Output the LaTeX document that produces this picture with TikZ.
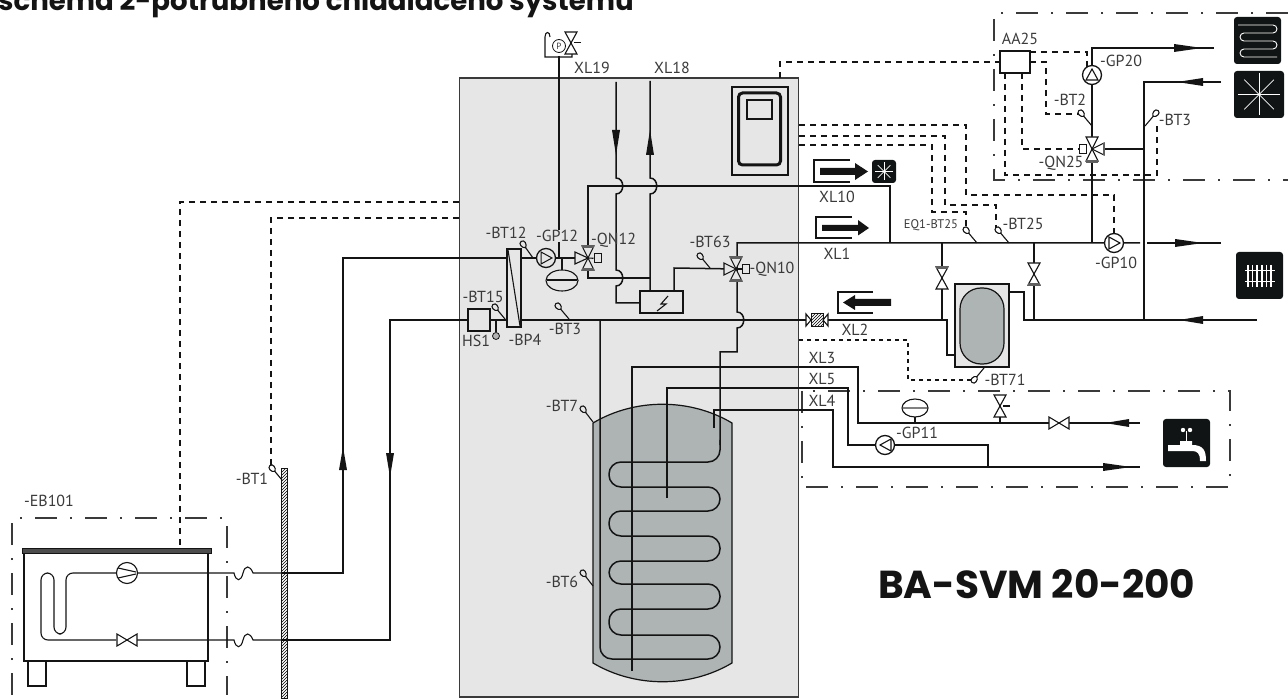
\documentclass[tikz,border=0pt]{standalone}
\usepackage{fontspec}
\setmainfont{PT Sans}
\newfontfamily\headfont{Poppins}[BoldFont={Poppins Bold}]
\usetikzlibrary{patterns}
\definecolor{boxgray}{HTML}{E6E6E6}
\definecolor{tankgray}{HTML}{AEB3B3}
\definecolor{ink}{HTML}{141414}
\definecolor{txt}{HTML}{3A3A3A}
\definecolor{iconbk}{HTML}{111414}
\tikzset{
  pipe/.style={draw=ink,line width=1.5pt},
  thin pipe/.style={draw=ink,line width=1.1pt},
  sig/.style={draw=ink,line width=1.05pt,dash pattern=on 6pt off 5pt},
  zone/.style={draw=txt,line width=1.1pt,dash pattern=on 22pt off 13pt on 2pt off 13pt},
  lbl/.style={inner sep=0pt,text=txt,font=\fontsize{16}{17}\selectfont},
  sym/.style={draw=ink,line width=1.1pt},
  icon/.style={fill=iconbk,rounded corners=3pt},
  iconline/.style={draw=white,line width=.9pt},
}
\newcommand{\vc}{white}
\newcommand{\arh}[3]{\fill[ink] (#1,#3) -- (#2,#3-4) -- (#2,#3+4) -- cycle;}
\newcommand{\arv}[3]{\fill[ink] (#1,#2) -- (#1-4,#3) -- (#1+4,#3) -- cycle;}
\newcommand{\vtri}[3]{\path[sym,fill=\vc] (#1,#2) -- (#1-6,#2+#3) -- (#1+6,#2+#3) -- cycle;}
\newcommand{\htri}[3]{\path[sym,fill=\vc] (#1,#2) -- (#1+#3,#2-6) -- (#1+#3,#2+6) -- cycle;}
\newcommand{\pumpc}[2]{\path[draw=ink,line width=1.3pt,fill=\vc] (#1,#2) circle (9.5pt);}
% sensor: teardrop bulb at x,y with a tail to the pipe at x,y
\newcommand{\sensor}[4]{%
  \pgfmathsetmacro{\sa}{atan2(-(#4-(#2)),#3-(#1))}%
  \draw[thin pipe] (#1,#2) -- (#3,#4);
  \path[sym,fill=\vc] ([shift={(\sa:4.5pt)}]#1,#2)
    .. controls ([shift={(\sa+50:4.5pt)}]#1,#2) and ([shift={(\sa+130:5pt)}]#1,#2) .. ([shift={(\sa+180:3.2pt)}]#1,#2)
    .. controls ([shift={(\sa-130:5pt)}]#1,#2) and ([shift={(\sa-50:4.5pt)}]#1,#2) .. cycle;}
\newcommand{\Star}[3]{\foreach \a in {0,45,90,135}{\draw[iconline,line width=.7pt] (#1,#2) ++(\a:#3pt) -- ++(\a+180:#3*2pt);}}
\begin{document}
\begin{tikzpicture}[x=1pt,y=-1pt]
\useasboundingbox (0,0) rectangle (1288,700);
\clip (0,0) rectangle (1288,700);

% === main cabinet
\path[fill=boxgray,draw=txt,line width=1.3pt] (459.5,78) rectangle (798.5,697);
\node[lbl,font=\headfont\bfseries\fontsize{27.6}{29}\selectfont,text=ink,anchor=base west] (title) at (-2,11) {schema 2-potrubneho chladiaceho systemu};
\node[lbl,font=\headfont\bfseries\fontsize{39}{41}\selectfont,text=ink,anchor=base west] (model) at (878,598) {BA-SVM 20-200};

% === zones
\draw[zone] (1288,13) -- (994,13) -- (994,180) -- (1288,180);
\draw[zone] (802,391) rectangle (1230,487);
\draw[zone] (12,695) -- (12,518) -- (227,518) -- (227,695);

% === tank
\path[fill=tankgray,draw=ink,line width=1.2pt] (593,423) .. controls (635,398) and (690,398) .. (732,423) -- (732,663) .. controls (690,688) and (635,688) .. (593,663) -- cycle;

% === dashed signal wires
\draw[sig] (459,202) -- (180,202) -- (180,548);
\draw[sig] (459,218) -- (271,218) -- (271,465);
\draw[sig] (780,78) -- (780,62) -- (1000,62);
\draw[sig] (799,125) -- (966,125) -- (966,195) -- (1114,195) -- (1114,233);
\draw[sig] (799,136) -- (945,136) -- (945,205) -- (996,205) -- (996,228);
\draw[sig] (799,145) -- (932,145) -- (932,212) -- (966,212) -- (966,227);
\draw[sig,dash pattern=on 4pt off 4pt] (799,340) -- (908,340) -- (908,380) -- (971,380);
\draw[sig] (1030,52) -- (1087,52) -- (1087,68);
\draw[sig] (1030,62) -- (1046,62) -- (1046,114) -- (1079,114);
\draw[sig] (1005,73) -- (1005,175) -- (1157,175) -- (1157,122);
\draw[sig] (1022,73) -- (1022,149) -- (1079,149);

% === pipes, left and process
\coordinate (qn12) at (588,258);
\coordinate (qn10) at (736,269);
\draw[pipe] (282,573) -- (343,573) -- (343,258) -- (507,258);
\draw[pipe] (282,640) -- (390,640) -- (390,320) -- (468,320);
\draw[pipe] (490,320) -- (507,320);
\draw[pipe] (521,258) -- (qn12);
\draw[pipe] (559,56) -- (559,258);
\draw[pipe] (562,258) -- (562,270);
\draw[pipe] (521,320) -- (806,320);
\draw[pipe] (828,320) -- (947,320) -- (947,355) -- (955,355);
\draw[pipe,rounded corners=12pt] (600,320) -- (600,659) -- (720,659) -- (720,635) -- (609,635) -- (609,609) -- (720,609) -- (720,584) -- (609,584) -- (609,561) -- (720,561) -- (720,536) -- (609,536) -- (609,511) -- (720,511) -- (720,487) -- (609,487) -- (609,462) -- (720,462) -- (720,440);
\draw[pipe] (720,445) -- (720,352) -- (737,352) -- (737,328) .. controls (746,328) and (746,312) .. (737,312) -- (737,243) -- (1140,243);
\draw[pipe] (632,671) -- (632,367) -- (858,367) -- (858,423) -- (1140,423);
\draw[pipe] (667,498) -- (667,388) -- (848,388) -- (848,445) -- (988,445) -- (988,467);
\draw[pipe] (714,428) -- (714,410) -- (833,410) -- (833,467) -- (1140,467);
\draw[pipe] (616,82) -- (616,178) .. controls (625,178) and (625,194) .. (616,194) -- (616,270) .. controls (625,270) and (625,286) .. (616,286) -- (616,303) -- (640,303);
\draw[pipe] (650,81) -- (650,178) .. controls (659,178) and (659,194) .. (650,194) -- (650,291);
\draw[pipe] (588,258) -- (588,186) -- (890,186) -- (890,243);
\draw[pipe] (588,258) -- (588,278) -- (650,278);
\draw[pipe] (674,291) -- (674,268) -- (qn10);
\draw[pipe] (1147,243) -- (1221,243);
\draw[pipe] (1092,243) -- (1092,48) -- (1214,48);
\draw[pipe] (1221,82) -- (1144,82) -- (1144,320);
\draw[pipe] (1092,149) -- (1144,149);
\draw[pipe] (942,243) -- (942,320);
\draw[pipe] (1034,243) -- (1034,320);
\draw[pipe] (1009,292) -- (1024,292) -- (1024,320) -- (1257,320);

% === arrowheads
\arv{343}{447}{470}
\arv{390}{477}{453}
\arv{616}{155}{130}
\arv{650}{130}{155}
\arh{1202}{1174}{48}
\arh{1177}{1203}{82}
\arh{1203}{1175}{243}
\arh{1179}{1203}{320}
\arh{1105}{1129}{423}
\arh{1131}{1103}{467}

% === P symbol and safety valve at the top
\draw[thin pipe] (572,53) -- (572,57) -- (545,57) -- (545,37) .. controls (545,31) and (550,31) .. (550,37);
\path[sym,line width=.8pt,fill=white] (559,46) circle (6.5pt);
\node[inner sep=0pt,text=txt,font=\fontsize{9}{9}\selectfont] (pmark) at (559,46) {P};
\vtri{571}{43}{-11}
\vtri{571}{43}{11}
\draw[thin pipe] (581,42.5) -- (574,42.5);

% === BP4 heat exchanger, HS1
\node[draw=ink,line width=1.4pt,fill=boxgray,minimum width=14pt,minimum height=78pt,inner sep=0pt] (bp4) at (514,288) {};
\draw[thin pipe] (508,250) -- (520,326);
\node[draw=ink,line width=1.3pt,fill=boxgray,minimum width=22pt,minimum height=22pt,inner sep=0pt] (hs1) at (479,320) {};
\draw[thin pipe] (496,320) -- (496,332);
\path[sym,line width=.8pt,fill=gray!60] (496,336) circle (3.5pt);

% === heater
\node[draw=ink,line width=1.3pt,fill=boxgray,minimum width=43pt,minimum height=22pt,inner sep=0pt] (heater) at (661.5,302) {};
\draw[thin pipe] (668,296) -- (661,304) -- (666,304) -- (657,311);

% === inside grey box: valves and pumps
\renewcommand{\vc}{boxgray}
\pumpc{546}{258}
\path[sym,line width=1pt] (541,252) -- (552,258) -- (541,264) -- cycle;
\path[sym,fill=boxgray] (562,280.5) ellipse (16pt and 10.5pt);
\draw[pipe,line width=2pt] (547,280.5) -- (577,280.5);
% QN12
\htri{588}{258}{-13}\vtri{588}{258}{-12}\vtri{588}{258}{12}
\fill[gray!75!black] (582,245) rectangle (594,248);
\fill[gray!75!black] (582,268) rectangle (594,271);
\node[draw=ink,line width=1pt,fill=boxgray,minimum width=7pt,minimum height=9pt,inner sep=0pt] (qn12act) at (597.5,258.5) {};
\draw[thin pipe] (qn12) -- (qn12act);
% QN10
\htri{736}{269}{-12}\vtri{736}{269}{-12}\vtri{736}{269}{12}
\fill[gray!75!black] (730,256) rectangle (742,259);
\fill[gray!75!black] (730,279) rectangle (742,282);
\node[draw=ink,line width=1pt,fill=boxgray,minimum width=7pt,minimum height=9pt,inner sep=0pt] (qn10act) at (745.5,269) {};
\draw[thin pipe] (qn10) -- (qn10act);

\sensor{523}{244}{533}{258}
\sensor{700}{256}{710}{268}
\sensor{495}{307}{505}{319}
\sensor{558}{306}{569}{319}
\sensor{583}{409}{593}{422}
\sensor{583}{573}{593}{586}

% === controller
\node[draw=ink,line width=1.1pt,fill=boxgray,minimum width=56pt,minimum height=88pt,inner sep=0pt] (ctrl) at (760,131) {};
\node[draw=ink,line width=3pt,rounded corners=4pt,fill=boxgray,minimum width=42pt,minimum height=72pt,inner sep=0pt] (ctrlin) at (759.5,129) {};
\node[draw=ink,line width=1.1pt,fill=boxgray,minimum width=25pt,minimum height=19pt,inner sep=0pt] (ctrlscr) at (759.5,109.5) {};

% === outside: white symbols
\renewcommand{\vc}{white}
\htri{811}{320}{-5}\htri{823}{320}{5}
\node[draw=ink,line width=1pt,pattern=north east lines,minimum width=12pt,minimum height=13pt,inner sep=0pt] (filt) at (817,320) {};

% service arrows
\draw[sym] (850,160) -- (814,160) -- (814,182) -- (850,182);
\fill[ink] (820,168) -- (855,168) -- (855,163) -- (868,171.5) -- (855,180) -- (855,175) -- (820,175) -- cycle;
\draw[sym] (852,217) -- (816,217) -- (816,238) -- (852,238);
\fill[ink] (822,225) -- (858,225) -- (858,220) -- (869,228) -- (858,235.5) -- (858,231) -- (822,231) -- cycle;
\draw[sym] (873,292) -- (838,292) -- (838,313) -- (873,313);
\fill[ink] (891,299) -- (855,299) -- (855,295) -- (843,302.5) -- (855,310) -- (855,306) -- (891,306) -- cycle;
\path[icon] (872,160) rectangle (896,183);
\Star{884}{171.5}{9}

% two-way valves
\vtri{942}{278}{-11}\vtri{942}{278}{11}
\fill[gray!75!black] (936,266) rectangle (948,269);
\vtri{1034}{274}{-11}\vtri{1034}{274}{11}
\fill[gray!75!black] (1028,283) rectangle (1040,286);

% buffer vessel
\node[draw=ink,line width=1.2pt,fill=boxgray,minimum width=54pt,minimum height=83pt,inner sep=0pt] (vessel) at (982,325.5) {};
\path[draw=ink,line width=1.2pt,fill=tankgray,rounded corners=21pt] (960,288) rectangle (1004,364);

% sensors outside
\sensor{272}{468}{282}{480}
\sensor{1081}{113}{1092}{126}
\sensor{1156}{113}{1145}{126}
\sensor{966}{230}{977}{243}
\sensor{998}{230}{1009}{243}
\sensor{974}{380}{984}{368}

% AA25
\node[draw=ink,line width=1.3pt,fill=white,minimum width=30pt,minimum height=22pt,inner sep=0pt] (aa25) at (1015,62) {};

% GP20, QN25
\pumpc{1092}{75}
\path[sym] (1086,80) -- (1092,69) -- (1098,80) -- cycle;
\htri{1092}{149}{12}\vtri{1092}{149}{-12}\vtri{1092}{149}{12}
\node[draw=ink,line width=1pt,fill=white,minimum width=7pt,minimum height=9pt,inner sep=0pt] (qn25act) at (1082.5,149) {};
\fill[gray!75!black] (1086,160) rectangle (1098,163);
\fill[gray!75!black] (1103,143) rectangle (1105,155);

% GP10, GP11
\pumpc{1114}{243}
\path[sym] (1109,237) -- (1120,243) -- (1109,249) -- cycle;
\pumpc{885}{445}
\path[sym] (891,439) -- (880,445) -- (891,451) -- cycle;

% DHW expansion and valves
\draw[pipe] (915,423) -- (915,416);
\path[sym,fill=white] (915,408) ellipse (13pt and 9pt);
\draw[draw=gray,line width=2pt] (903,408) -- (927,408);
\draw[pipe] (1000,423) -- (1000,417);
\vtri{1000}{406}{-11}\vtri{1000}{406}{11}
\draw[thin pipe] (1010,406) -- (1003,406);
\htri{1059}{423}{-10}\htri{1059}{423}{10}

% === outdoor unit
\path[draw=ink,line width=1.6pt,fill=white] (24,553) rectangle (208,661);
\path[draw=ink,line width=1pt,fill=gray!60!black] (22,548) rectangle (211,553);
\draw[draw=ink,line width=1.5pt] (28,661) -- (28,686) -- (46,686) -- (46,661);
\draw[draw=ink,line width=1.5pt] (187,661) -- (187,686) -- (205,686) -- (205,661);
\draw[thin pipe,rounded corners=7pt] (116,573) -- (66,573) -- (66,634) -- (54,634) -- (54,573) -- (41,573) -- (41,640) -- (116,640);
\draw[thin pipe] (137,573) -- (234,573) .. controls (236,582) and (241,582) .. (243,573) .. controls (245,565) and (250,565) .. (253,573) -- (282,573);
\draw[thin pipe] (137,640) -- (234,640) .. controls (236,649) and (241,649) .. (243,640) .. controls (245,632) and (250,632) .. (253,640) -- (282,640);
\path[sym,fill=white] (127,573) circle (10.5pt);
\draw[thin pipe] (118,568) -- (136,572);
\draw[thin pipe] (118,578) -- (136,574);
\htri{127}{640}{-10}\htri{127}{640}{10}
\node[draw=ink,line width=1pt,pattern=north east lines,minimum width=5.5pt,minimum height=230pt,inner sep=0pt] (wall) at (284.5,583) {};

% === icons
\path[icon] (1234,17) rectangle (1281,64);
\draw[iconline,rounded corners=4pt] (1238,25) -- (1277,25) -- (1277,33) -- (1240,33) -- (1240,41) -- (1277,41) -- (1277,49) -- (1240,49) -- (1240,57) -- (1277,57);
\path[icon] (1234,71) rectangle (1284,118);
\Star{1259}{94.5}{21}
\path[icon] (1236,252) rectangle (1283,299);
\foreach \xx in {1248,1252.6,...,1272}{\draw[iconline,line width=1.6pt] (\xx,265) -- (\xx,287);}
\draw[iconline,line width=.6pt] (1245,270) -- (1275,270);
\draw[iconline,line width=.6pt] (1245,281) -- (1275,281);
\path[icon] (1163,419) rectangle (1210,467);
\fill[white] (1168,445) -- (1180,445) -- (1180,441) -- (1192,441) -- (1192,445) .. controls (1203,445) and (1206,450) .. (1206,461) -- (1200,461) .. controls (1200,453) and (1197,451) .. (1192,451) -- (1168,451) -- cycle;
\draw[iconline,line width=1.6pt] (1186.5,431) -- (1186.5,442);
\fill[white] (1183,430) circle (2.2pt) (1190,430) circle (2.2pt);

% === labels
\node[lbl] (lXLnineteen) at (592,68) {XL19};
\node[lbl] (lXLeighteen) at (672,68) {XL18};
\node[lbl] (lXLten) at (837,197) {XL10};
\node[lbl] (lXLone) at (837,254) {XL1};
\node[lbl] (lXLtwo) at (855,330) {XL2};
\node[lbl] (lXLthree) at (822,358) {XL3};
\node[lbl] (lXLfive) at (822,379) {XL5};
\node[lbl] (lXLfour) at (822,401) {XL4};
\node[lbl] (lBTtw) at (506,233) {-BT12};
\node[lbl,fill=boxgray] (lGPtw) at (557,236) {-GP12};
\node[lbl,anchor=west] (lQNtw) at (591,240) {-QN12};
\node[lbl] (lBTsx) at (710,242) {-BT63};
\node[lbl] (lQNten) at (772,269) {-QN10};
\node[lbl] (lBTfv) at (483,297) {-BT15};
\node[lbl] (lHS) at (476,341) {HS1};
\node[lbl] (lBP) at (525,340) {-BP4};
\node[lbl] (lBTthree) at (565,329) {-BT3};
\node[lbl] (lBTseven) at (562,406) {-BT7};
\node[lbl] (lBTsix) at (562,582) {-BT6};
\node[lbl] (lBTone) at (252,479) {-BT1};
\node[lbl] (lEB) at (49,501) {-EB101};
\node[lbl] (lAA) at (1020,39) {AA25};
\node[lbl] (lGPtwenty) at (1121,61) {-GP20};
\node[lbl] (lBTtwo) at (1070,100) {-BT2};
\node[lbl] (lBTthreeR) at (1175,120) {-BT3};
\node[lbl] (lQNtwfv) at (1061,163) {-QN25};
\node[lbl,font=\fontsize{12.5}{13}\selectfont] (lEQ) at (931,225) {EQ1-BT25};
\node[lbl] (lBTtwfv) at (1023,224) {-BT25};
\node[lbl] (lBTsvone) at (1005,380) {-BT71};
\node[lbl] (lGPel) at (917,433) {-GP11};
\node[lbl] (lGPten) at (1116,263) {-GP10};
\end{tikzpicture}
\end{document}
